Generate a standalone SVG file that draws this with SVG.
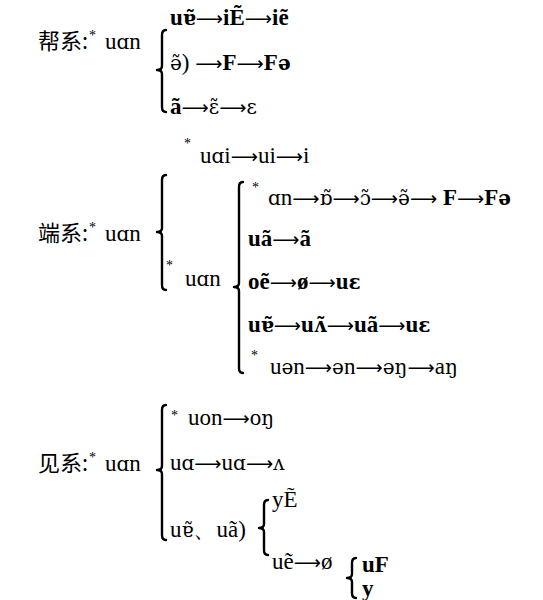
<svg xmlns="http://www.w3.org/2000/svg" width="543" height="600" viewBox="0 0 543 600">
<style>
text{font-family:"Liberation Serif","DejaVu Serif",serif;font-size:23px;fill:#000}
.cjk{font-family:"Noto Sans CJK SC",sans-serif;font-size:22px}
.ipa{font-family:"DejaVu Serif",serif;font-size:20px}
.ar{font-family:"DejaVu Sans",sans-serif;font-size:19px;font-weight:normal}
.b{font-weight:bold}
.st{font-size:14px}
.br{fill:none;stroke:#000;stroke-width:2.4;stroke-linecap:round;stroke-linejoin:round}
</style>
<rect width="543" height="600" fill="#fff"/>
<g id="bang">
<text class="cjk" x="38" y="49">帮系:</text>
<text class="st" x="89" y="40">*</text>
<text x="105" y="49">u<tspan class="ipa">ɑ</tspan>n</text>
<path class="br" d="M166,30 Q162,30 162,35 L162,66 Q162,70 157,70 Q162,70 162,74 L162,107 Q162,112 166,112"/>
<text x="170" y="25"><tspan class="b">u<tspan class="ipa">ɐ̃</tspan></tspan><tspan class="ar">⟶</tspan><tspan class="b">iẼ</tspan><tspan class="ar">⟶</tspan><tspan class="b">iẽ</tspan></text>
<text x="170" y="70"><tspan class="ipa">ə̃</tspan>) <tspan class="ar">⟶</tspan><tspan class="b">F</tspan><tspan class="ar">⟶</tspan><tspan class="b">F<tspan class="ipa">ə</tspan></tspan></text>
<text x="170" y="114"><tspan class="b">ã</tspan><tspan class="ar">⟶</tspan><tspan class="ipa">ɛ̃</tspan><tspan class="ar">⟶</tspan><tspan class="ipa">ɛ</tspan></text>
</g>
<g id="duan">
<text class="cjk" x="38" y="241">端系:</text>
<text class="st" x="89" y="232">*</text>
<text x="105" y="241">u<tspan class="ipa">ɑ</tspan>n</text>
<path class="br" d="M166,175 Q162,175 162,180 L162,228 Q162,232 157,232 Q162,232 162,236 L162,285 Q162,290 166,290"/>
<text class="st" x="184" y="148">*</text>
<text x="200" y="163">u<tspan class="ipa">ɑ</tspan>i<tspan class="ar">⟶</tspan>ui<tspan class="ar">⟶</tspan>i</text>
<text class="st" x="166" y="270">*</text>
<text x="185" y="286">u<tspan class="ipa">ɑ</tspan>n</text>
<path class="br" d="M243,182 Q239,182 239,187 L239,283 Q239,287 234,287 Q239,287 239,291 L239,368 Q239,373 243,373"/>
<text class="st" x="252" y="192">*</text>
<text x="268" y="205"><tspan class="ipa">ɑ</tspan>n<tspan class="ar">⟶</tspan><tspan class="ipa">ɒ̃</tspan><tspan class="ar">⟶</tspan><tspan class="ipa">ɔ̃</tspan><tspan class="ar">⟶</tspan><tspan class="ipa">ə̃</tspan><tspan class="ar">⟶</tspan> <tspan class="b">F</tspan><tspan class="ar">⟶</tspan><tspan class="b">F<tspan class="ipa">ə</tspan></tspan></text>
<text x="248" y="246"><tspan class="b">uã</tspan><tspan class="ar">⟶</tspan><tspan class="b">ã</tspan></text>
<text x="248" y="289"><tspan class="b">oẽ</tspan><tspan class="ar">⟶</tspan><tspan class="b">ø</tspan><tspan class="ar">⟶</tspan><tspan class="b">u<tspan class="ipa">ɛ</tspan></tspan></text>
<text x="248" y="332"><tspan class="b">u<tspan class="ipa">ɐ̃</tspan></tspan><tspan class="ar">⟶</tspan><tspan class="b">u<tspan class="ipa">ʌ̃</tspan></tspan><tspan class="ar">⟶</tspan><tspan class="b">uã</tspan><tspan class="ar">⟶</tspan><tspan class="b">u<tspan class="ipa">ɛ</tspan></tspan></text>
<text class="st" x="251" y="360">*</text>
<text x="270" y="374">u<tspan class="ipa">ə</tspan>n<tspan class="ar">⟶</tspan><tspan class="ipa">ə</tspan>n<tspan class="ar">⟶</tspan><tspan class="ipa">əŋ</tspan><tspan class="ar">⟶</tspan>a<tspan class="ipa">ŋ</tspan></text>
</g>
<g id="jian">
<text class="cjk" x="38" y="471">见系:</text>
<text class="st" x="89" y="462">*</text>
<text x="105" y="471">u<tspan class="ipa">ɑ</tspan>n</text>
<path class="br" d="M166,405 Q162,405 162,410 L162,466 Q162,470 157,470 Q162,470 162,474 L162,535 Q162,540 166,540"/>
<text class="st" x="171" y="420">*</text>
<text x="188" y="425">uon<tspan class="ar">⟶</tspan>o<tspan class="ipa">ŋ</tspan></text>
<text x="170" y="470">u<tspan class="ipa">ɑ</tspan><tspan class="ar">⟶</tspan>u<tspan class="ipa">ɑ</tspan><tspan class="ar">⟶</tspan><tspan class="ipa">ʌ</tspan></text>
<text x="170" y="537">u<tspan class="ipa">ɐ̃</tspan>、uã)</text>
<path class="br" d="M268,500 Q264,500 264,505 L264,524 Q264,528 259,528 Q264,528 264,532 L264,550 Q264,555 268,555"/>
<text x="272" y="507">yẼ</text>
<text x="272" y="569">uẽ<tspan class="ar">⟶</tspan>ø</text>
<path class="br" d="M356,558 Q352,558 352,563 L352,574 Q352,578 347,578 Q352,578 352,582 L352,593 Q352,598 356,598"/>
<text class="b" x="362" y="572">uF</text>
<text class="b" x="362" y="596">y</text>
</g>
</svg>
